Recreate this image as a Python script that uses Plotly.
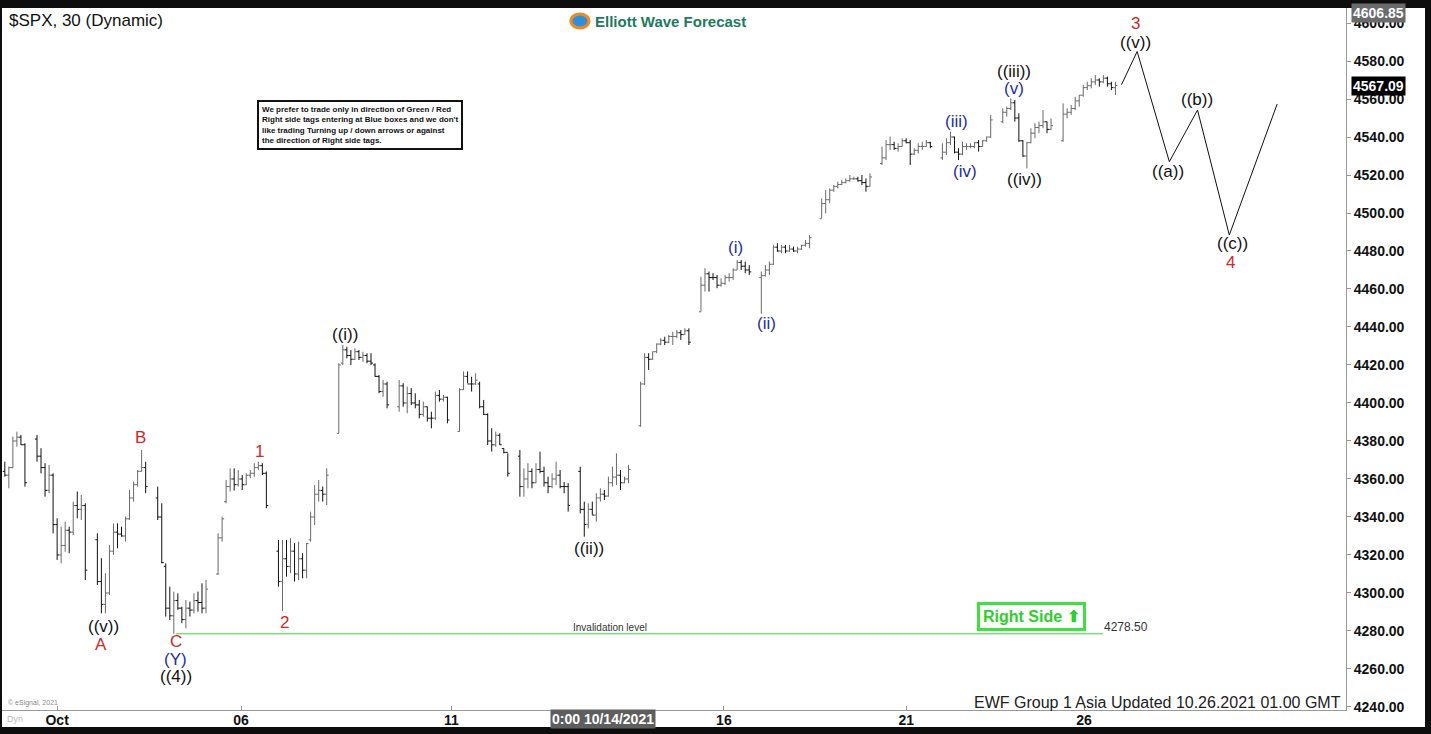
import plotly.graph_objects as go

# --- 30 min SPX bars, one list per session ---------------------------------
# slot = 15 * session + bar number (13 bars per session, 2 empty slots between)
SLOTS_PER_SESSION = 15
session_first_bar = [7] + [0] * 18

opens = [
    [4364, 4362, 4366, 4380, 4382, 4378],
    [4381, 4372, 4366, 4354, 4362, 4336, 4320, 4325, 4333, 4332, 4346, 4344, 4346],
    [4328, 4306, 4294, 4300, 4322, 4332, 4331, 4330, 4339, 4350, 4357, 4364, 4366],
    [4350, 4340, 4314, 4292, 4288, 4296, 4292, 4286, 4292, 4291, 4296, 4295, 4292],
    [4310, 4329, 4348, 4356, 4360, 4357, 4360, 4357, 4362, 4363, 4366, 4367, 4363],
    [4322, 4306, 4318, 4314, 4322, 4310, 4318, 4312, 4328, 4340, 4352, 4354, 4352],
    [4384, 4421, 4428, 4425, 4423, 4427, 4424, 4425, 4422, 4420, 4414, 4406, 4410],
    [4398, 4409, 4400, 4405, 4400, 4399, 4394, 4398, 4392, 4392, 4404, 4402, 4403],
    [4385, 4407, 4414, 4410, 4410, 4410, 4398, 4394, 4380, 4378, 4383, 4376, 4374],
    [4372, 4356, 4360, 4364, 4358, 4365, 4364, 4358, 4356, 4360, 4362, 4356, 4356],
    [4364, 4344, 4336, 4344, 4341, 4350, 4352, 4351, 4358, 4361, 4362, 4358, 4360],
    [4388, 4410, 4424, 4423, 4427, 4431, 4433, 4432, 4435, 4435, 4437, 4436, 4438],
    [4448, 4462, 4468, 4466, 4466, 4462, 4463, 4466, 4466, 4470, 4474, 4472, 4470],
    [4466, 4467, 4470, 4473, 4482, 4480, 4482, 4480, 4481, 4480, 4481, 4483, 4484],
    [4497, 4505, 4507, 4512, 4514, 4515, 4516, 4517, 4518, 4518, 4517, 4516, 4514],
    [4526, 4529, 4536, 4536, 4534, 4535, 4538, 4537, 4531, 4533, 4535, 4535, 4537],
    [4529, 4532, 4537, 4540, 4532, 4531, 4535, 4535, 4535, 4537, 4535, 4538, 4540],
    [4548, 4553, 4555, 4558, 4550, 4538, 4530, 4537, 4542, 4545, 4546, 4548, 4544],
    [4538, 4552, 4553, 4555, 4559, 4562, 4566, 4567, 4569, 4570, 4569, 4571, 4568, 4566],
]
highs = [
    [4369.1, 4366.5, 4382.3, 4384.9, 4383.2, 4378.8],
    [4383.2, 4376.2, 4368.3, 4367.4, 4363.0, 4339.3, 4334.9, 4337.5, 4334.9, 4348.1, 4353.4, 4351.6, 4347.2],
    [4331.4, 4318.3, 4310.4, 4325.3, 4336.6, 4336.6, 4334.9, 4340.2, 4354.2, 4358.6, 4364.7, 4375.3, 4369.1],
    [4356.0, 4347.2, 4315.6, 4303.3, 4300.7, 4299.8, 4292.8, 4296.3, 4295.4, 4299.8, 4300.7, 4305.1, 4306.8],
    [4331.4, 4340.2, 4359.5, 4365.6, 4365.6, 4364.7, 4362.1, 4363.0, 4364.7, 4368.3, 4369.1, 4368.3, 4363.9],
    [4327.9, 4327.9, 4327.9, 4328.8, 4326.2, 4327.0, 4320.9, 4326.2, 4342.8, 4356.8, 4359.5, 4356.0, 4365.6],
    [4420.9, 4430.5, 4429.6, 4427.9, 4428.8, 4427.9, 4427.0, 4426.2, 4426.2, 4420.9, 4414.7, 4412.1, 4411.2],
    [4412.1, 4410.4, 4408.6, 4407.8, 4405.1, 4401.6, 4400.7, 4398.1, 4395.4, 4406.0, 4406.8, 4404.2, 4403.3],
    [4407.8, 4416.6, 4416.6, 4413.8, 4415.6, 4411.2, 4401.6, 4394.6, 4386.7, 4384.9, 4384.0, 4376.2, 4373.5],
    [4375.3, 4365.6, 4368.3, 4365.6, 4368.3, 4374.4, 4366.5, 4361.2, 4363.0, 4369.1, 4364.7, 4358.5, 4357.8],
    [4366.5, 4348.1, 4347.2, 4348.1, 4352.5, 4355.1, 4354.2, 4361.2, 4366.5, 4373.5, 4364.7, 4361.2, 4367.4],
    [4411.2, 4426.2, 4426.2, 4427.0, 4431.4, 4434.1, 4434.9, 4435.8, 4437.5, 4438.4, 4438.4, 4439.3, 4439.3],
    [4466.5, 4470.9, 4469.2, 4468.3, 4467.4, 4465.6, 4467.4, 4468.3, 4470.9, 4475.3, 4475.3, 4474.4, 4472.6],
    [4469.2, 4472.6, 4474.4, 4483.2, 4484.1, 4483.2, 4483.2, 4483.2, 4482.3, 4482.3, 4483.2, 4485.8, 4488.4],
    [4507.7, 4512.1, 4513.0, 4514.7, 4516.5, 4517.4, 4518.2, 4520.0, 4519.1, 4519.1, 4520.0, 4518.2, 4520.9],
    [4534.9, 4538.4, 4540.2, 4537.5, 4536.7, 4539.3, 4539.3, 4538.4, 4534.1, 4536.7, 4537.5, 4538.4, 4537.5],
    [4536.7, 4539.3, 4542.8, 4540.2, 4534.1, 4537.5, 4536.7, 4536.7, 4537.5, 4538.4, 4538.4, 4540.2, 4551.6],
    [4555.1, 4556.0, 4560.4, 4559.5, 4552.5, 4538.4, 4537.5, 4544.6, 4547.3, 4548.1, 4554.2, 4548.1, 4549.8],
    [4557.7, 4555.1, 4556.8, 4561.2, 4562.1, 4567.4, 4569.1, 4570.9, 4572.6, 4570.9, 4572.6, 4571.8, 4569.1, 4569.1],
]
lows = [
    [4361.2, 4355.1, 4365.6, 4377.0, 4377.9, 4356.0],
    [4369.1, 4363.0, 4350.7, 4352.5, 4331.4, 4317.4, 4315.6, 4321.7, 4320.9, 4330.5, 4339.3, 4338.4, 4306.8],
    [4304.2, 4289.3, 4289.3, 4298.9, 4320.0, 4323.5, 4329.6, 4327.0, 4338.4, 4348.1, 4356.0, 4363.9, 4352.5],
    [4338.4, 4315.6, 4287.6, 4285.8, 4278.5, 4291.1, 4284.1, 4281.4, 4287.6, 4289.3, 4290.2, 4289.3, 4289.3],
    [4309.5, 4327.0, 4347.2, 4353.4, 4353.9, 4356.0, 4354.2, 4356.8, 4360.4, 4361.2, 4364.7, 4362.1, 4344.6],
    [4303.3, 4290.5, 4308.6, 4310.4, 4306.0, 4306.8, 4307.7, 4307.7, 4327.0, 4335.8, 4348.1, 4348.1, 4346.3],
    [4384.0, 4420.0, 4423.5, 4420.0, 4422.6, 4422.6, 4421.7, 4420.9, 4420.0, 4413.8, 4405.1, 4403.3, 4397.2],
    [4395.4, 4398.1, 4394.6, 4398.9, 4397.2, 4391.9, 4392.8, 4390.2, 4386.7, 4391.1, 4400.7, 4400.7, 4389.3],
    [4384.9, 4406.8, 4410.4, 4406.0, 4409.5, 4397.2, 4393.7, 4377.9, 4374.4, 4377.0, 4377.9, 4373.5, 4361.2],
    [4350.7, 4350.7, 4355.1, 4355.1, 4357.8, 4363.0, 4356.0, 4352.5, 4355.1, 4356.8, 4355.1, 4352.5, 4342.8],
    [4341.9, 4329.6, 4334.0, 4341.1, 4337.5, 4348.1, 4348.9, 4350.7, 4356.0, 4356.8, 4354.2, 4357.8, 4357.8],
    [4387.5, 4409.5, 4417.4, 4422.6, 4426.2, 4430.5, 4430.5, 4431.4, 4430.5, 4434.1, 4433.2, 4435.8, 4430.5],
    [4448.1, 4458.6, 4458.6, 4464.7, 4460.4, 4461.2, 4462.1, 4463.9, 4464.7, 4470.0, 4470.0, 4468.3, 4467.4],
    [4447.0, 4466.5, 4467.4, 4472.6, 4479.6, 4478.8, 4478.8, 4479.6, 4479.6, 4478.8, 4480.5, 4482.3, 4481.4],
    [4497.2, 4499.8, 4505.1, 4511.2, 4513.0, 4514.7, 4515.6, 4516.5, 4517.4, 4516.5, 4514.7, 4511.2, 4513.9],
    [4525.3, 4527.9, 4533.2, 4533.2, 4532.3, 4534.9, 4536.7, 4525.3, 4530.5, 4531.4, 4533.2, 4534.9, 4534.1],
    [4527.9, 4530.5, 4535.8, 4531.4, 4527.9, 4530.5, 4533.2, 4534.1, 4534.1, 4532.3, 4534.9, 4537.5, 4539.5],
    [4547.3, 4550.7, 4554.2, 4548.1, 4537.5, 4529.6, 4523.5, 4536.7, 4539.3, 4542.0, 4544.6, 4542.0, 4543.7],
    [4537.5, 4549.8, 4551.6, 4554.2, 4556.0, 4561.2, 4564.7, 4565.6, 4567.4, 4566.5, 4568.3, 4566.5, 4564.7, 4562.1],
]
closes = [
    [4362, 4366, 4380, 4382, 4378, 4358],
    [4372, 4366, 4354, 4362, 4336, 4320, 4325, 4333, 4332, 4346, 4344, 4346, 4312],
    [4306, 4294, 4300, 4322, 4332, 4331, 4330, 4339, 4350, 4357, 4364, 4366, 4356],
    [4340, 4316, 4292, 4288, 4296, 4292, 4286, 4292, 4291, 4296, 4295, 4292, 4302],
    [4329, 4339, 4356, 4360, 4357, 4360, 4357, 4362, 4363, 4366, 4367, 4363, 4346],
    [4306, 4318, 4314, 4322, 4310, 4318, 4312, 4326, 4340, 4352, 4354, 4352, 4362],
    [4420, 4428, 4425, 4423, 4427, 4424, 4425, 4422, 4421, 4414, 4406, 4410, 4399],
    [4409, 4400, 4405, 4400, 4399, 4394, 4398, 4392, 4392, 4404, 4402, 4403, 4391],
    [4407, 4414, 4410, 4410, 4412, 4398, 4394, 4380, 4378, 4383, 4378, 4374, 4363],
    [4356, 4360, 4364, 4358, 4365, 4364, 4358, 4356, 4360, 4362, 4356, 4356, 4346],
    [4344, 4336, 4344, 4341, 4350, 4352, 4351, 4358, 4361, 4362, 4358, 4360, 4365],
    [4410, 4424, 4423, 4427, 4431, 4433, 4432, 4435, 4435, 4437, 4436, 4438, 4432],
    [4462, 4468, 4466, 4466, 4462, 4463, 4466, 4466, 4470, 4474, 4472, 4470, 4469],
    [4467, 4470, 4473, 4482, 4480, 4482, 4480, 4481, 4480, 4481, 4483, 4484, 4487],
    [4505, 4507, 4512, 4514, 4515, 4516, 4517, 4518, 4518, 4517, 4516, 4514, 4519],
    [4529, 4536, 4536, 4534, 4535, 4538, 4537, 4531, 4533, 4535, 4535, 4537, 4535],
    [4532, 4537, 4540, 4532, 4531, 4535, 4535, 4535, 4537, 4535, 4538, 4540, 4549],
    [4553, 4555, 4558, 4550, 4538, 4530, 4537, 4542, 4545, 4546, 4548, 4544, 4546],
    [4552, 4553, 4555, 4559, 4562, 4566, 4567, 4569, 4570, 4569, 4571, 4568, 4566, 4567.09],
]

# axis
tick_slots = [20, 65.7, 118, 185.7, 231, 275.2]
tick_labels = ["Oct", "06", "11", "16", "21", "26"]
cursor_slot = 155.7
cursor_label = "0:00 10/14/2021"
high_label = 4606.85
last_label = 4567.09

# projected path after the last bar
proj_slots = [284.5, 288.4, 296.4, 303.4, 311.3, 323.2]
proj_prices = [4567.5, 4585.0, 4527.0, 4554.2, 4488.4, 4557.4]

invalidation_level = 4278.50
invalidation_slots = [49.5, 279.9]

# wave labels: text, slot, price, colour
RED, BLUE, BLK = "#cc2b2b", "#1f2e9e", "#111111"
wave_labels = [
    ("((v))", 31.4, 4282.1, BLK), ("A", 30.9, 4273.0, RED),
    ("B", 40.8, 4381.6, RED),
    ("C", 49.5, 4274.2, RED), ("(Y)", 49.5, 4265.2, BLUE), ("((4))", 49.5, 4256.2, BLK),
    ("1", 70.2, 4374.7, RED), ("2", 76.6, 4284.2, RED),
    ("((i))", 91.5, 4435.8, BLK), ("((ii))", 152.2, 4323.2, BLK),
    ("(i)", 188.7, 4482.1, BLUE), ("(ii)", 196.4, 4442.1, BLUE),
    ("(iii)", 243.6, 4547.9, BLUE), ("(iv)", 245.6, 4521.6, BLUE),
    ("((iii))", 257.8, 4574.7, BLK), ("(v)", 257.8, 4565.3, BLUE),
    ("((iv))", 260.3, 4517.4, BLK),
    ("3", 288.1, 4599.5, RED), ("((v))", 288.1, 4590.0, BLK),
    ("((a))", 296.1, 4521.6, BLK), ("((b))", 303.3, 4559.5, BLK),
    ("((c))", 312.0, 4483.7, BLK), ("4", 311.7, 4473.7, RED),
]

# flatten sessions into bar slots
xs, o, h, l, c = [], [], [], [], []
for s in range(len(opens)):
    for i in range(len(opens[s])):
        xs.append(SLOTS_PER_SESSION * s + session_first_bar[s] + i)
        o.append(opens[s][i])
        h.append(highs[s][i])
        l.append(lows[s][i])
        c.append(closes[s][i])

fig = go.Figure()
fig.add_trace(go.Ohlc(
    x=xs, open=o, high=h, low=l, close=c,
    increasing_line_color="#6a6a6a",
    decreasing_line_color="#111111",
    line_width=1,
    tickwidth=0.5,
    hoverinfo="skip",
))
fig.add_trace(go.Scatter(
    x=proj_slots, y=proj_prices, mode="lines",
    line=dict(color="#111111", width=1), hoverinfo="skip",
))
fig.add_trace(go.Scatter(
    x=invalidation_slots, y=[invalidation_level] * 2, mode="lines",
    line=dict(color="#3fd23f", width=1), hoverinfo="skip",
))

FONT = "Arial, Liberation Sans, sans-serif"
ann = []
for text, sx, py, col in wave_labels:
    ann.append(dict(x=sx, y=py, text=text, showarrow=False, borderpad=0,
                    font=dict(family=FONT, size=17, color=col)))

ann += [
    dict(xref="paper", yref="paper", x=0.004, y=0.982, xanchor="left", yanchor="middle",
         text="$SPX, 30 (Dynamic)", showarrow=False,
         font=dict(family=FONT, size=17, color="#111")),
    dict(xref="paper", yref="paper", x=0.440, y=0.981, xanchor="left", yanchor="middle",
         text="<b>Elliott Wave Forecast</b>", showarrow=False,
         font=dict(family=FONT, size=15, color="#1e7a5e")),
    dict(xref="paper", yref="paper", x=0.1897, y=0.869, xanchor="left", yanchor="top",
         align="left", showarrow=False, bgcolor="white",
         bordercolor="#111", borderwidth=2, borderpad=3,
         text="<b>We prefer to trade only in direction of Green / Red<br>"
              "Right side tags entering at Blue boxes and we don't<br>"
              "like trading Turning up / down arrows or against<br>"
              "the direction of Right side tags.</b>",
         font=dict(family=FONT, size=8, color="#111")),
    dict(x=262.2, y=4287.4, text="<b>Right Side \u2b06</b>", showarrow=False,
         bordercolor="#3fe03f", borderwidth=3, borderpad=3,
         font=dict(family=FONT, size=16, color="#2fcf2f")),
    dict(x=285.6, y=4282.1, text="4278.50", showarrow=False,
         font=dict(family=FONT, size=12, color="#333")),
    dict(x=157.4, y=4282.0, text="Invalidation level", showarrow=False,
         font=dict(family=FONT, size=10, color="#333")),
    dict(xref="paper", yref="paper", x=0.998, y=0.010, xanchor="right", yanchor="middle",
         text="EWF Group 1 Asia Updated 10.26.2021 01.00 GMT", showarrow=False,
         font=dict(family=FONT, size=16, color="#222")),
    dict(xref="paper", yref="paper", x=0.003, y=0.010, xanchor="left", yanchor="middle",
         text="\u00a9 eSignal, 2021", showarrow=False,
         font=dict(family=FONT, size=7, color="#888")),
    dict(xref="paper", yref="paper", x=0.002, y=-0.013, xanchor="left", yanchor="middle",
         text="Dyn", showarrow=False, font=dict(family=FONT, size=9, color="#bbb")),
    dict(x=cursor_slot, xref="x", yref="paper", y=-0.0125, yanchor="middle",
         text="<b>" + cursor_label + "</b>", showarrow=False, bgcolor="#5e5e5e",
         borderpad=1, font=dict(family=FONT, size=14, color="white")),
    dict(xref="paper", x=1.004, y=high_label - 1.5, xanchor="left", yanchor="middle",
         text="<b>%.2f</b>" % high_label, showarrow=False, bgcolor="#6b6b6b",
         borderpad=1, font=dict(family=FONT, size=14, color="white")),
    dict(xref="paper", x=1.004, y=last_label, xanchor="left", yanchor="middle",
         text="<b>%.2f</b>" % last_label, showarrow=False, bgcolor="#000",
         borderpad=1, font=dict(family=FONT, size=14, color="white")),
]

shapes = [
    # white chart panel inside the black frame
    dict(type="rect", xref="paper", yref="paper", x0=0, x1=1.0588, y0=-0.0242, y1=1.0,
         fillcolor="white", line_width=0, layer="below"),
    # logo mark
    dict(type="circle", xref="paper", yref="paper", x0=0.4233, x1=0.4367, y0=0.9715, y1=0.9915,
         fillcolor="#2f8fd8", line=dict(color="#f08a24", width=3)),
]

fig.update_layout(
    width=1431, height=734,
    margin=dict(l=2, r=85, t=8, b=24),
    paper_bgcolor="#0d0d0d", plot_bgcolor="white",
    showlegend=False,
    annotations=ann, shapes=shapes,
    xaxis=dict(
        range=[6.3, 340.3], showgrid=False, zeroline=False,
        rangeslider=dict(visible=False),
        tickvals=tick_slots, ticktext=tick_labels,
        tickfont=dict(family=FONT, size=14, color="#111", weight="bold"),
        ticks="inside", ticklen=4, tickcolor="#999", ticklabelstandoff=-3,
        showline=True, linecolor="#9a9a9a", linewidth=1,
    ),
    yaxis=dict(
        range=[4238.4, 4607.9], side="right", showgrid=False, zeroline=False,
        tick0=4240, dtick=20, tickformat=".2f",
        tickfont=dict(family=FONT, size=14, color="#111", weight="bold"),
        ticks="outside", ticklen=4, tickcolor="#999",
        showline=True, linecolor="#9a9a9a", linewidth=1,
    ),
)

# page body has a default 8px margin; drop it so the chart fills the window
fig.write_html("out.html", config={"displayModeBar": False},
               post_script="document.body.style.margin='0';"
                           "document.body.style.overflow='hidden';")
